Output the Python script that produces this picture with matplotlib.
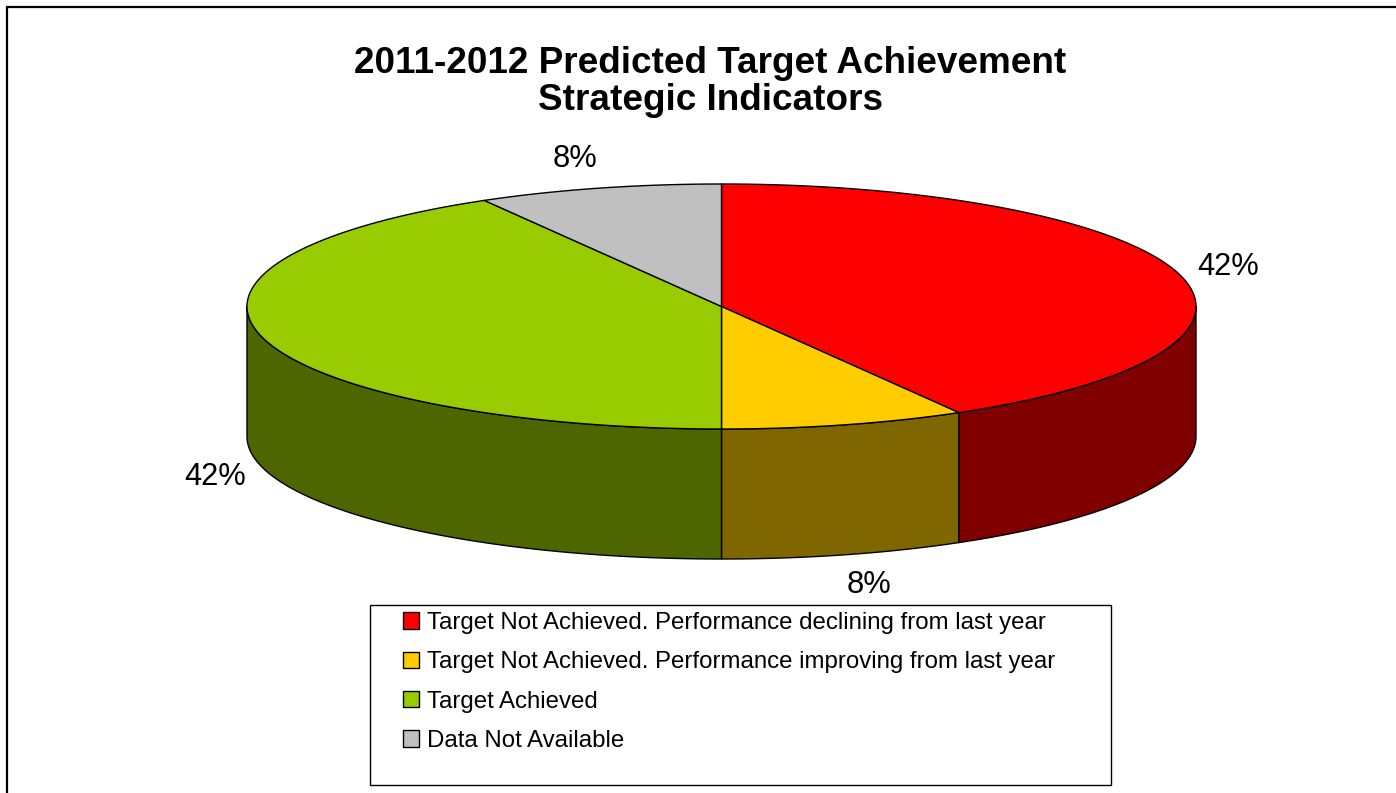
import numpy as np
import matplotlib
matplotlib.use("Agg")
import matplotlib.pyplot as plt
from matplotlib.patches import Polygon, Rectangle

plt.rcParams['font.family'] = ['Liberation Sans', 'DejaVu Sans']

title = "2011-2012 Predicted Target Achievement\nStrategic Indicators"
categories = ["Target Not Achieved. Performance declining from last year",
              "Target Not Achieved. Performance improving from last year",
              "Target Achieved",
              "Data Not Available"]
values = [5, 1, 5, 1]
top_colors = ["#ff0000", "#ffcc00", "#99cc00", "#c0c0c0"]
side_colors = ["#800000", "#806600", "#4d6600", "#606060"]
label_pos = [(1228, 267), (869, 585), (215, 477), (575, 159)]

W, H = 1396, 793
cx, cy, rx, ry, depth = 721.5, 306.5, 474.5, 122.5, 130

fig = plt.figure(figsize=(W / 100, H / 100), dpi=100, facecolor="white")
ax = fig.add_axes([0, 0, 1, 1])
ax.set_xlim(0, W)
ax.set_ylim(H, 0)
ax.axis("off")

# chart frame (right and bottom edges fall outside the picture)
ax.add_patch(Rectangle((6.5, 6.5), W + 20, H + 20, fc="white", ec="black", lw=1.6, zorder=0))


def pt(theta):
    """theta: clockwise from 12 o'clock, radians"""
    return cx + rx * np.sin(theta), cy - ry * np.cos(theta)


edges = np.cumsum([0] + values) / sum(values) * 2 * np.pi

# side walls: only the front half of the pie (pi/2 .. 3pi/2) is visible
for v, a, b, c in zip(values, edges[:-1], edges[1:], side_colors):
    lo, hi = max(a, np.pi / 2), min(b, 3 * np.pi / 2)
    if hi <= lo:
        continue
    t = np.linspace(lo, hi, 200)
    x, y = pt(t)
    xy = np.r_[np.c_[x, y], np.c_[x[::-1], y[::-1] + depth]]
    ax.add_patch(Polygon(xy, closed=True, fc=c, ec="black", lw=1.0, zorder=2, joinstyle="round"))

# top faces
handles = []
for v, a, b, c, name in zip(values, edges[:-1], edges[1:], top_colors, categories):
    t = np.linspace(a, b, 300)
    x, y = pt(t)
    xy = np.r_[[[cx, cy]], np.c_[x, y]]
    handles.append(ax.add_patch(Polygon(xy, closed=True, fc=c, ec="black", lw=1.0,
                                        zorder=3, joinstyle="round", label=name)))

# percentage labels
for v, (lx, ly) in zip(values, label_pos):
    ax.text(lx, ly, f"{v / sum(values):.0%}", ha="center", va="center",
            fontsize=22.2, color="black", zorder=5)

# title
ax.text(710, 82, title, ha="center", va="center", fontsize=26.6, fontweight="bold",
        linespacing=1.05, color="black", zorder=5)

# legend box
ax.add_patch(Rectangle((369.5, 604.5), 741, 180, fc="white", ec="black", lw=1.0, zorder=4))
leg = ax.legend(handles=handles, loc="upper left", bbox_to_anchor=(403 / W, 1 - 612 / H),
                bbox_transform=fig.transFigure, frameon=False, fontsize=17.3, borderpad=0,
                borderaxespad=0, handlelength=0.67, handleheight=0.67, handletextpad=0.33,
                labelspacing=0.72)
leg.set_zorder(6)

fig.savefig("out.png", dpi=100)
